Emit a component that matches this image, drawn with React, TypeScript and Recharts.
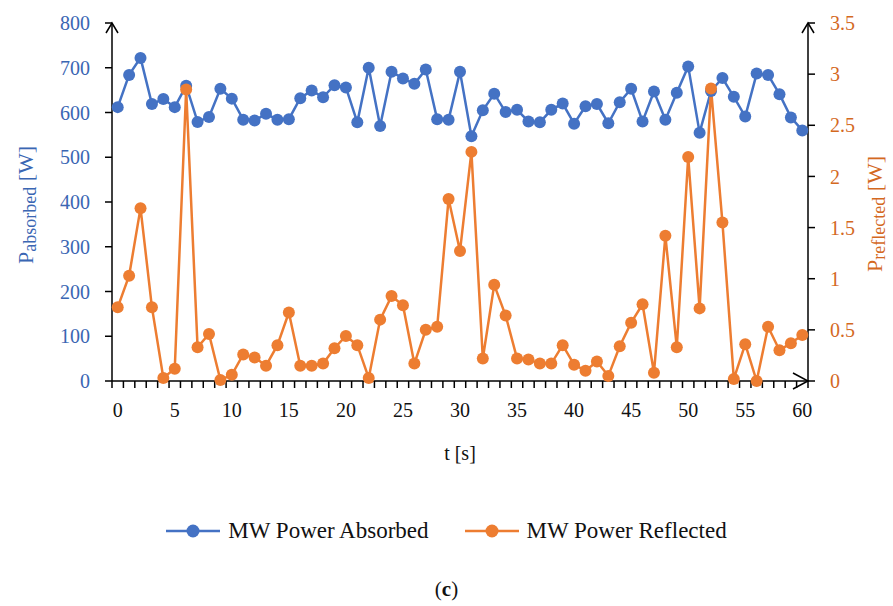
import React from "react";
import {
  LineChart,
  Line,
  XAxis,
  YAxis,
  Legend,
  ReferenceDot,
} from "recharts";

// time in seconds, one sample per second
const T = [
  0, 1, 2, 3, 4, 5, 6, 7, 8, 9, 10, 11, 12, 13, 14, 15, 16, 17, 18, 19, 20,
  21, 22, 23, 24, 25, 26, 27, 28, 29, 30, 31, 32, 33, 34, 35, 36, 37, 38, 39,
  40, 41, 42, 43, 44, 45, 46, 47, 48, 49, 50, 51, 52, 53, 54, 55, 56, 57, 58,
  59, 60,
];

// absorbed microwave power [W]
const ABSORBED = [
  612, 684, 722, 619, 630, 612, 660, 579, 590, 653,
  631, 584, 582, 597, 584, 585, 632, 649, 634, 661,
  656, 578, 700, 570, 691, 676, 664, 696, 585, 584,
  691, 547, 605, 642, 601, 606, 580, 578, 606, 620,
  575, 614, 619, 576, 623, 653, 580, 647, 584, 644,
  703, 555, 648, 677, 635, 591, 687, 684, 641, 589, 560,
];

// reflected microwave power [W]
const REFLECTED = [
  0.72, 1.03, 1.69, 0.72, 0.03, 0.12, 2.85, 0.33, 0.46, 0.01,
  0.06, 0.26, 0.23, 0.15, 0.35, 0.67, 0.15, 0.15, 0.17, 0.32,
  0.44, 0.35, 0.03, 0.6, 0.83, 0.74, 0.17, 0.5, 0.53, 1.78,
  1.27, 2.24, 0.22, 0.94, 0.64, 0.22, 0.21, 0.17, 0.17, 0.35,
  0.16, 0.1, 0.19, 0.05, 0.34, 0.57, 0.75, 0.08, 1.42, 0.33,
  2.19, 0.71, 2.86, 1.55, 0.02, 0.36, 0.0, 0.53, 0.3, 0.37, 0.45,
];

const LEFT_TICKS = [0, 100, 200, 300, 400, 500, 600, 700, 800];
const RIGHT_TICKS = [0, 0.5, 1, 1.5, 2, 2.5, 3, 3.5];
// category boundaries carry the minor tick marks
const X_BOUNDS = [-0.5, ...T.map((t) => t + 0.5)];

const SERIES = [
  { key: "absorbed", name: "MW Power Absorbed", color: "#4472C4" },
  { key: "reflected", name: "MW Power Reflected", color: "#ED7D31" },
];

const data = T.map((t, i) => ({
  t,
  absorbed: ABSORBED[i],
  reflected: REFLECTED[i],
}));

const W = 893;
const H = 606;
const LEFT_W = 112;
const RIGHT_W = 85;
const PLOT_W = W - LEFT_W - RIGHT_W;
const HALF_CAT = PLOT_W / T.length / 2;

const FONT = "'Liberation Serif', 'Times New Roman', serif";
const BLUE_TXT = "#3A66B3";
const ORANGE_TXT = "#D4691F";

function XTick({ x, y, payload }: any) {
  const k = payload.value + 0.5;
  if (k % 5 !== 0 || k > 60) return null;
  return (
    <text
      x={x + HALF_CAT}
      y={y}
      dy="0.71em"
      textAnchor="middle"
      fill="#111"
      fontSize={20}
      fontFamily={FONT}
    >
      {k}
    </text>
  );
}

function AxisTitle({ viewBox, main, sub, color, dx, dy = 0 }: any) {
  const cx = viewBox.x + dx;
  const cy = viewBox.y + viewBox.height / 2 + dy;
  return (
    <text
      x={cx}
      y={cy}
      transform={`rotate(-90, ${cx}, ${cy})`}
      textAnchor="middle"
      dominantBaseline="central"
      fill={color}
      fontFamily={FONT}
      fontSize={22}
    >
      <tspan>{main}</tspan>
      <tspan fontSize={18} dy={5}>
        {sub}
      </tspan>
      <tspan dy={-5}> [W]</tspan>
    </text>
  );
}

const upArrow = ({ cx, cy }: any) => (
  <path
    d={`M${cx - 6},${cy + 10} L${cx},${cy} L${cx + 6},${cy + 10}`}
    stroke="#000"
    strokeWidth={1.5}
    fill="none"
  />
);

const rightArrow = ({ cx, cy }: any) => (
  <path
    d={`M${cx - 15},${cy - 8} L${cx},${cy} L${cx - 15},${cy + 8}`}
    stroke="#000"
    strokeWidth={1.5}
    fill="none"
  />
);

function LegendContent() {
  return (
    <div
      style={{
        display: "flex",
        justifyContent: "center",
        alignItems: "center",
        gap: 36,
        fontFamily: FONT,
        fontSize: 23,
        color: "#111",
      }}
    >
      {SERIES.map((s) => (
        <div key={s.key} style={{ display: "flex", alignItems: "center" }}>
          <svg width={54} height={16} style={{ marginRight: 8 }}>
            <line x1={0} y1={8} x2={54} y2={8} stroke={s.color} strokeWidth={2.5} />
            <circle cx={27} cy={8} r={6.5} fill={s.color} />
          </svg>
          <span>{s.name}</span>
        </div>
      ))}
    </div>
  );
}

export default function App() {
  return (
    <div
      style={{
        position: "absolute",
        left: 0,
        top: 0,
        width: W,
        height: H,
        background: "#fff",
      }}
    >
      <LineChart
        width={W}
        height={H}
        data={data}
        margin={{ top: 23, right: 0, bottom: 136, left: 0 }}
        style={{ fontFamily: FONT }}
      >
        <XAxis
          dataKey="t"
          type="number"
          domain={[-0.5, 60.5]}
          ticks={X_BOUNDS}
          interval={0}
          height={89}
          tick={<XTick />}
          tickSize={7}
          tickMargin={15}
          axisLine={{ stroke: "#000", strokeWidth: 1.5 }}
          tickLine={{ stroke: "#000", strokeWidth: 1.5 }}
          label={{
            value: "t [s]",
            position: "insideBottom",
            offset: 10,
            fill: "#111",
            fontSize: 20,
            fontFamily: FONT,
          }}
        />
        <YAxis
          yAxisId="left"
          width={LEFT_W}
          domain={[0, 800]}
          ticks={LEFT_TICKS}
          interval={0}
          tickSize={7}
          tickMargin={15}
          tick={{ fill: BLUE_TXT, fontSize: 20, fontFamily: FONT }}
          axisLine={{ stroke: "#000", strokeWidth: 1.5 }}
          tickLine={{ stroke: "#000", strokeWidth: 1.5 }}
          label={(p: any) => (
            <AxisTitle {...p} main="P" sub="absorbed" color={BLUE_TXT} dx={25} dy={3} />
          )}
        />
        <YAxis
          yAxisId="right"
          orientation="right"
          width={RIGHT_W}
          domain={[0, 3.5]}
          ticks={RIGHT_TICKS}
          interval={0}
          tickSize={7}
          tickMargin={15}
          tick={{ fill: ORANGE_TXT, fontSize: 20, fontFamily: FONT, textAnchor: "start" }}
          axisLine={{ stroke: "#000", strokeWidth: 1.5 }}
          tickLine={{ stroke: "#000", strokeWidth: 1.5 }}
          label={(p: any) => (
            <AxisTitle {...p} main="P" sub="reflected" color={ORANGE_TXT} dx={66} dy={12} />
          )}
        />
        <Legend
          verticalAlign="middle"
          layout="horizontal"
          content={<LegendContent />}
          wrapperStyle={{ top: 518, left: 0, width: W }}
        />
        <Line
          yAxisId="left"
          type="linear"
          dataKey="absorbed"
          name={SERIES[0].name}
          stroke={SERIES[0].color}
          strokeWidth={2.5}
          dot={{ r: 6, fill: SERIES[0].color, stroke: SERIES[0].color, strokeWidth: 0 }}
          activeDot={false}
          isAnimationActive={false}
        />
        <Line
          yAxisId="right"
          type="linear"
          dataKey="reflected"
          name={SERIES[1].name}
          stroke={SERIES[1].color}
          strokeWidth={2.5}
          dot={{ r: 6, fill: SERIES[1].color, stroke: SERIES[1].color, strokeWidth: 0 }}
          activeDot={false}
          isAnimationActive={false}
        />
        <ReferenceDot yAxisId="left" x={-0.5} y={800} r={0} ifOverflow="visible" shape={upArrow} />
        <ReferenceDot yAxisId="right" x={60.5} y={3.5} r={0} ifOverflow="visible" shape={upArrow} />
        <ReferenceDot yAxisId="left" x={60.5} y={0} r={0} ifOverflow="visible" shape={rightArrow} />
      </LineChart>
      <div
        style={{
          position: "absolute",
          top: 577,
          left: 0,
          width: W,
          textAlign: "center",
          fontFamily: FONT,
          fontSize: 21,
          color: "#111",
        }}
      >
        (<b>c</b>)
      </div>
    </div>
  );
}
